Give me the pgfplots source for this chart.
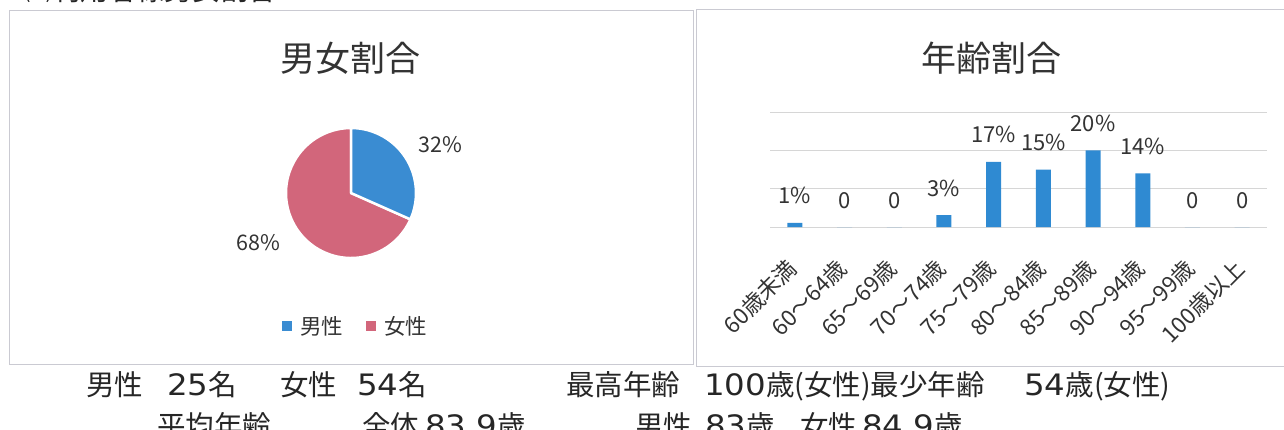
\documentclass[border=0pt]{standalone}
\usepackage{fontspec}
\setmainfont{Noto Sans CJK JP}
\newfontfamily\dv[FakeStretch=1.1]{DejaVu Sans}
\usepackage{pgfplots}
\usepackage{pgfplotstable}
\pgfplotsset{compat=1.18}
\definecolor{cblue}{HTML}{3A8CD2}
\definecolor{cbar}{HTML}{2F8AD2}
\definecolor{cred}{HTML}{D2667B}
\definecolor{cgrid}{HTML}{D6D6D6}
\definecolor{cframe}{HTML}{CACAD2}
\definecolor{ctext}{HTML}{262626}
\definecolor{clabel}{HTML}{333333}

\pgfplotstableread{
sex n
male 25
female 54
}\sexdata

\pgfplotstableread{
idx val lab
0 1.1 1\%
1 0 0
2 0 0
3 3.1 3\%
4 17 17\%
5 15 15\%
6 20 20\%
7 14 14\%
8 0 0
9 0 0
}\agedata

\newcommand\cj{\fontsize{28.5}{32}\selectfont}
\newcommand\dg[1]{{\dv\fontsize{29.5}{32}\selectfont #1}}

\begin{document}
\begin{tikzpicture}
\useasboundingbox (0,0) rectangle (1284pt,429pt);
% panel frames
\draw[cframe, line width=0.8pt] (9pt,65pt) rectangle (693pt,419pt);
\draw[cframe, line width=0.8pt] (696pt,63pt) rectangle (1295pt,420pt);
% cut-off heading
\node[anchor=base west, inner sep=0pt, font=\fontsize{28}{32}\selectfont, color=ctext] at (24pt,428.5pt) {⑴利用者様男女割合};
% titles
\node[font=\fontsize{35}{40}\selectfont, color=clabel] at (350pt,371pt) {男女割合};
\node[font=\fontsize{35}{40}\selectfont, color=clabel] at (991pt,371pt) {年齢割合};

% ---- pie chart ----
\pgfplotstablegetelem{0}{n}\of\sexdata \let\nm\pgfplotsretval
\pgfplotstablegetelem{1}{n}\of\sexdata \let\nf\pgfplotsretval
\pgfmathsetmacro\angm{360*\nm/(\nm+\nf)}
\pgfmathtruncatemacro\pcm{round(100*\nm/(\nm+\nf))}
\pgfmathtruncatemacro\pcf{round(100*\nf/(\nm+\nf))}
\begin{axis}[hide axis, x=65pt, y=65pt, xmin=-1, xmax=1, ymin=-1, ymax=1,
  anchor=origin, at={(351pt,236pt)}, clip=false]
\fill[cred, draw=white, line width=2.5pt, line join=round] (axis cs:0,0) -- (axis cs:{cos(90-\angm)},{sin(90-\angm)}) arc[start angle=90-\angm, end angle=-270, radius=1] -- cycle;
\fill[cblue, draw=white, line width=2.5pt, line join=round] (axis cs:0,0) -- (axis cs:0,1) arc[start angle=90, end angle=90-\angm, radius=1] -- cycle;
\node[font=\fontsize{21.5}{25}\selectfont, color=clabel] at (axis cs:1.37,0.74) {\pcm\%};
\node[font=\fontsize{21.5}{25}\selectfont, color=clabel] at (axis cs:-1.42,-0.77) {\pcf\%};
\end{axis}
% pie legend
\fill[cblue] (282pt,98pt) rectangle (292pt,108pt);
\node[anchor=west, inner sep=0pt, font=\fontsize{21.5}{25}\selectfont, color=clabel] at (300pt,103pt) {男性};
\fill[cred] (366pt,98pt) rectangle (376pt,108pt);
\node[anchor=west, inner sep=0pt, font=\fontsize{21.5}{25}\selectfont, color=clabel] at (384pt,103pt) {女性};

% ---- bar chart ----
\begin{axis}[at={(770pt,202pt)}, anchor=south west, scale only axis,
  width=497pt, height=115pt, xmin=-0.5, xmax=9.5, ymin=0, ymax=30,
  ybar, bar width=15pt, axis line style={draw=none},
  ymajorgrids, major grid style={cgrid, line width=0.8pt},
  ytick={0,10,20,30}, yticklabel=\empty,
  xtick={0,...,9},
  xticklabels={60歳未満,60～64歳,65～69歳,70～74歳,75～79歳,80～84歳,85～89歳,90～94歳,95～99歳,100歳以上},
  major tick length=0pt,
  xticklabel style={font=\fontsize{22.5}{26}\selectfont, color=clabel, anchor=east, inner sep=0pt, yshift=-37pt, xshift=-2pt, rotate=45},
  nodes near coords, point meta=explicit symbolic,
  every node near coord/.append style={font=\fontsize{22}{26}\selectfont, color=clabel, anchor=base, yshift=19pt},
  clip=false]
\addplot[fill=cbar, draw=none] table[x=idx, y=val, meta=lab] {\agedata};
\end{axis}

% ---- bottom text ----
\begin{scope}[every node/.style={anchor=base west, inner sep=0pt, font=\cj, color=ctext}]
% line 1
\node at (86pt,34pt) {男性};
\node at (167pt,34pt) {\dg{25}名};
\node at (280pt,34pt) {女性};
\node at (357pt,34pt) {\dg{54}名};
\node at (566pt,34pt) {最高年齢};
\node at (704pt,34pt) {\dg{100}歳(女性)最少年齢};
\node at (1024pt,34pt) {\dg{54}歳(女性)};
% line 2
\node at (157pt,-7pt) {平均年齢};
\node at (362pt,-7pt) {全体};
\node at (425pt,-7pt) {\dg{83.9}歳};
\node at (635pt,-7pt) {男性};
\node at (705pt,-7pt) {\dg{83}歳};
\node at (800pt,-7pt) {女性};
\node at (862pt,-7pt) {\dg{84.9}歳};
\end{scope}
\end{tikzpicture}
\end{document}
